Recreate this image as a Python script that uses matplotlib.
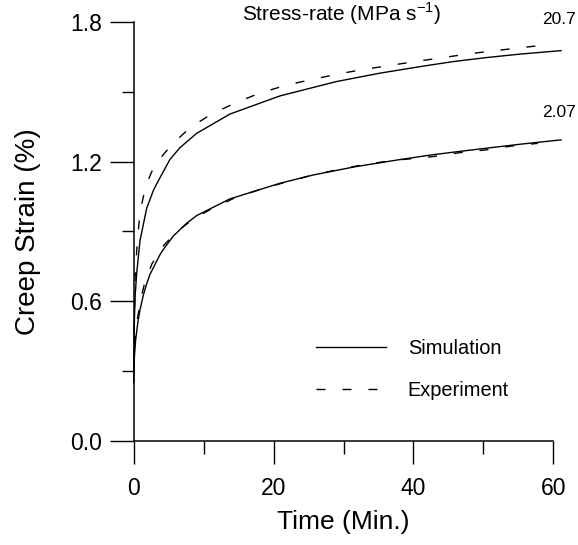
import matplotlib
matplotlib.use("Agg")
import matplotlib.pyplot as plt
from matplotlib.ticker import MultipleLocator

plt.rcParams['font.family'] = ['Liberation Sans', 'DejaVu Sans']
plt.rcParams['mathtext.fontset'] = 'custom'
plt.rcParams['mathtext.rm'] = 'Liberation Sans'
plt.rcParams['lines.scale_dashes'] = False

# Creep strain (%) vs time (min) at two stress rates
t_sim_high = [0, 0.1, 0.2, 0.43, 0.9, 1.86, 2.8, 3.29, 5.19, 6.6, 9.0, 13.76,
              20.9, 25.2, 29.0, 35.2, 40.9, 45.7, 50.4, 55.2, 61.1]
e_sim_high = [0.30, 0.52, 0.62, 0.72, 0.86, 1.00, 1.075, 1.105, 1.21, 1.26,
              1.322, 1.405, 1.483, 1.516, 1.545, 1.581, 1.609, 1.631, 1.648,
              1.663, 1.678]

t_exp_high = [0, 0.2, 0.5, 0.9, 1.7, 3.0, 5.4, 8.0, 11.1, 14.7, 18.0, 21.9,
              25.2, 29.0, 32.6, 36.4, 40.2, 43.8, 47.6, 51.4, 55.2, 59.0]
e_exp_high = [0.35, 0.70, 0.85, 0.98, 1.095, 1.186, 1.272, 1.345, 1.405, 1.455,
              1.495, 1.530, 1.552, 1.576, 1.596, 1.613, 1.631, 1.646, 1.663,
              1.677, 1.690, 1.703]

t_sim_low = [0, 0.1, 0.28, 0.6, 0.9, 1.37, 1.86, 2.33, 3.76, 4.23, 5.66, 7.57,
             9.0, 13.76, 20.9, 25.7, 31.6, 37.6, 42.3, 45.7, 50.4, 55.2, 61.1]
e_sim_low = [0.25, 0.36, 0.433, 0.51, 0.562, 0.625, 0.675, 0.715, 0.80, 0.822,
             0.88, 0.935, 0.968, 1.040, 1.107, 1.143, 1.178, 1.207, 1.228,
             1.241, 1.258, 1.275, 1.294]

t_exp_low = [0, 0.3, 0.95, 1.5, 2.6, 4.3, 6.2, 8.6, 11.3, 14.5, 18.0, 21.5,
             25.0, 29.0, 33.0, 37.0, 40.5, 42.8, 46.6, 50.4, 54.2, 57.8]
e_exp_low = [0.30, 0.48, 0.60, 0.67, 0.76, 0.84, 0.90, 0.955, 1.000, 1.045,
             1.080, 1.110, 1.138, 1.165, 1.188, 1.205, 1.215, 1.222, 1.239,
             1.251, 1.268, 1.279]

rate_labels = ["20.7", "2.07"]
rate_label_pos = [(63.19, 1.813), (63.19, 1.411)]

x_ticks = [0, 20, 40, 60]
y_ticks = [0.0, 0.6, 1.2, 1.8]

fig = plt.figure(figsize=(5.78, 5.45), dpi=100)
ax = fig.add_axes([0.2313, 0.1917, 0.7260, 0.7674])

dash = (0, (6.5, 12.2))
lw = 1.0
sim_line, = ax.plot(t_sim_high, e_sim_high, color='black', lw=lw,
                    clip_on=False, label='Simulation')
exp_line, = ax.plot(t_exp_high, e_exp_high, color='black', lw=lw,
                    linestyle=dash, clip_on=False, label='Experiment')
ax.plot(t_sim_low, e_sim_low, color='black', lw=lw, clip_on=False)
ax.plot(t_exp_low, e_exp_low, color='black', lw=lw, linestyle=dash,
        clip_on=False)

for txt, (x, y) in zip(rate_labels, rate_label_pos):
    ax.text(x, y, txt, fontsize=12.5, ha='right', va='center')

ax.set_xlim(0, 60)
ax.set_ylim(0, 1.8)
ax.set_xticks(x_ticks)
ax.set_yticks(y_ticks)
ax.set_yticklabels([f"{v:.1f}" for v in y_ticks])
ax.xaxis.set_minor_locator(MultipleLocator(10))
ax.yaxis.set_minor_locator(MultipleLocator(0.3))

for s in ['top', 'right']:
    ax.spines[s].set_visible(False)
for s in ['left', 'bottom']:
    ax.spines[s].set_linewidth(1.1)

ax.tick_params(axis='x', which='major', direction='out', length=16.3,
               width=1.0, labelsize=16.5, pad=10)
ax.tick_params(axis='x', which='minor', direction='out', length=9.0, width=1.0)
ax.tick_params(axis='y', which='major', direction='out', length=17.3,
               width=1.0, labelsize=16.5, pad=5.5)
ax.tick_params(axis='y', which='minor', direction='out', length=8.6, width=1.0)

ax.set_xlabel("Time (Min.)", fontsize=19)
ax.set_ylabel("Creep Strain (%)", fontsize=20)
ax.xaxis.set_label_coords(0.5, -0.166)
ax.yaxis.set_label_coords(-0.222, 0.5)

fig.text(0.5908, 0.9615, r"Stress-rate (MPa s$^{\mathregular{-1}}$)",
         fontsize=15, ha='center', va='baseline')

ax.legend(handles=[sim_line, exp_line], frameon=False, fontsize=14.4,
          handlelength=3.5, handletextpad=1.08, labelspacing=1.15,
          loc='center left', bbox_to_anchor=(0.435, 0.17),
          borderaxespad=0, borderpad=0)

fig.savefig("out.png", dpi=100)
